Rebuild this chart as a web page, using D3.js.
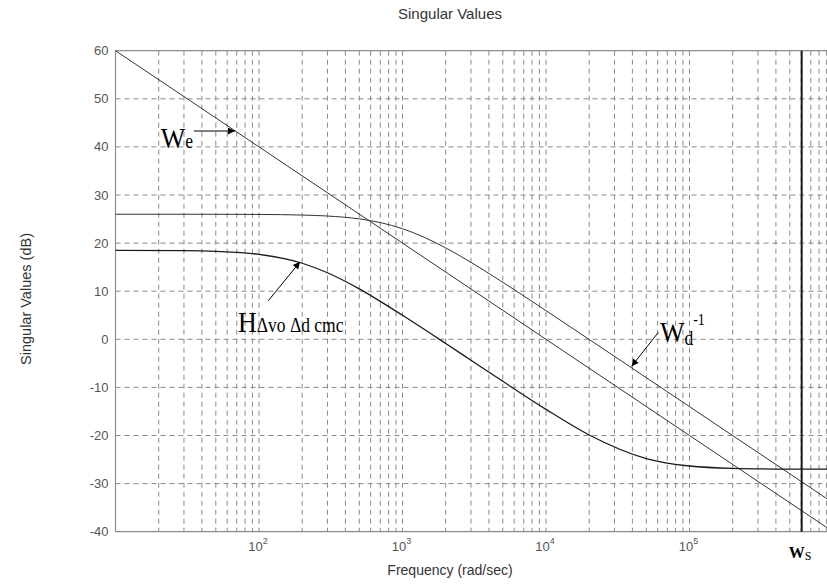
<!DOCTYPE html>
<html>
<head>
<meta charset="utf-8">
<script src="https://cdn.jsdelivr.net/npm/d3@7/dist/d3.min.js"></script>
<style>
  html, body { margin: 0; padding: 0; background: #fff; }
  svg { display: block; }
</style>
</head>
<body>
<svg id="chart" width="827" height="587"></svg>
<script>
// Frequency samples (rad/sec) and singular-value curves (dB)
const freq = [10, 30, 50, 100, 200, 300, 500, 700, 1000, 2000, 3000, 5000,
              1e4, 2e4, 5e4, 1e5, 2e5, 5e5, 1e6];
const weFreq = [10, 100, 1000, 1e4, 1e5, 1e6];
const weDb = [60, 40, 20, 0, -20, -40];
const wdInvDb = [26.0, 26.0, 25.99, 25.96, 25.83, 25.63, 25.03, 24.27, 22.99, 19.01, 16.0,
                 11.85, 5.96, -0.03, -7.98, -14.0, -20.02, -27.96, -34.0];
const hDb = [18.49, 18.42, 18.27, 17.66, 15.81, 13.83, 10.47, 7.89, 4.99, -0.87, -4.35,
             -8.73, -14.56, -19.89, -24.79, -26.34, -26.82, -26.97, -26.99];
const ws = 6.05e5;

const yTicks = [-40, -30, -20, -10, 0, 10, 20, 30, 40, 50, 60];
const xMajor = [100, 1000, 1e4, 1e5];
const xExponents = ["2", "3", "4", "5"];

const svg = d3.select("#chart");
const x = d3.scaleLog().domain([10, 1e6]).range([115.5, 833]);
const y = d3.scaleLinear().domain([-40, 60]).range([531.7, 50.7]);

const sans = "'Liberation Sans', Arial, Helvetica, sans-serif";
const serif = "'Liberation Serif', 'Times New Roman', Times, serif";
const gridColor = "#8a8a8a";

// minor + major grid positions for every decade
const minorTicks = [];
for (let d = 10; d < 1e6; d *= 10) {
  for (let k = 1; k < 10; k++) minorTicks.push(d * k);
}

const grid = svg.append("g");
grid.selectAll("line.v").data(minorTicks.filter(v => v > 10)).join("line")
  .attr("x1", d => x(d)).attr("x2", d => x(d))
  .attr("y1", y(60)).attr("y2", y(-40))
  .attr("stroke", gridColor).attr("stroke-width", 1)
  .attr("stroke-dasharray", "5,4");
grid.selectAll("line.h").data(yTicks.slice(1, -1)).join("line")
  .attr("x1", x(10)).attr("x2", x(1e6))
  .attr("y1", d => y(d)).attr("y2", d => y(d))
  .attr("stroke", gridColor).attr("stroke-width", 1)
  .attr("stroke-dasharray", "5,4");

// axes frame
const frame = svg.append("g").attr("stroke", "#8c8c8c").attr("stroke-width", 1.2).attr("fill", "none");
frame.append("line").attr("x1", x(10)).attr("x2", x(10)).attr("y1", y(60)).attr("y2", y(-40));
frame.append("line").attr("x1", x(10)).attr("x2", x(1e6)).attr("y1", y(-40)).attr("y2", y(-40));
frame.append("line").attr("x1", x(10)).attr("x2", x(1e6)).attr("y1", y(60)).attr("y2", y(60));

// y tick labels
svg.append("g").selectAll("text").data(yTicks).join("text")
  .attr("x", x(10) - 7).attr("y", d => y(d) + 4.5)
  .attr("text-anchor", "end")
  .attr("font-family", sans).attr("font-size", 13).attr("fill", "#555")
  .text(d => d);

// x tick labels: 10 with exponent
const xl = svg.append("g").selectAll("text").data(xMajor).join("text")
  .attr("x", d => x(d) - 1).attr("y", y(-40) + 19)
  .attr("text-anchor", "middle")
  .attr("font-family", sans).attr("font-size", 13).attr("fill", "#555");
xl.append("tspan").text("10");
xl.append("tspan").attr("dy", -7).attr("font-size", 9).text((d, i) => xExponents[i]);

// curves
const line = d3.line().x(d => x(d[0])).y(d => y(d[1])).curve(d3.curveMonotoneX);
const plot = svg.append("g");
plot.append("path").datum(weFreq.map((f, i) => [f, weDb[i]]))
  .attr("d", d3.line().x(d => x(d[0])).y(d => y(d[1])))
  .attr("fill", "none").attr("stroke", "#333").attr("stroke-width", 1);
plot.append("path").datum(freq.map((f, i) => [f, wdInvDb[i]]))
  .attr("d", line).attr("fill", "none").attr("stroke", "#333").attr("stroke-width", 1);
plot.append("path").datum(freq.map((f, i) => [f, hDb[i]]))
  .attr("d", line).attr("fill", "none").attr("stroke", "#1a1a1a").attr("stroke-width", 1.3);

// switching frequency marker
plot.append("line").attr("x1", x(ws)).attr("x2", x(ws)).attr("y1", y(60)).attr("y2", y(-40))
  .attr("stroke", "#1a1a1a").attr("stroke-width", 2);

// arrowhead
svg.append("defs").append("marker")
  .attr("id", "arrow").attr("viewBox", "0 0 10 10")
  .attr("refX", 10).attr("refY", 5)
  .attr("markerWidth", 10).attr("markerHeight", 7)
  .attr("markerUnits", "userSpaceOnUse")
  .attr("orient", "auto")
  .append("path").attr("d", "M0,0 L10,5 L0,10 Z").attr("fill", "#000");

function arrow(f0, d0, f1, d1) {
  svg.append("line")
    .attr("x1", x(f0)).attr("y1", y(d0)).attr("x2", x(f1)).attr("y2", y(d1))
    .attr("stroke", "#000").attr("stroke-width", 1)
    .attr("marker-end", "url(#arrow)");
}

// annotations (serif, slightly tall letterforms)
const ann = svg.append("g").attr("font-family", serif).attr("fill", "#000");
function label(f, d, size) {
  return ann.append("text")
    .attr("transform", `translate(${x(f)},${y(d)}) scale(1,1.14)`)
    .attr("font-size", size);
}

const we = label(20.7, 39.7, 26);
we.append("tspan").text("W");
we.append("tspan").attr("font-size", 17.5).text("e");
arrow(35.2, 43.3, 68, 43.3);

const h = label(71.5, 1.58, 26);
h.append("tspan").text("H");
h.append("tspan").attr("font-size", 17.5).text("Δvo Δd cmc");
arrow(116, 8.0, 193, 16.1);

const wd = label(62200, -0.5, 26);
wd.append("tspan").text("W");
wd.append("tspan").attr("font-size", 17.5).attr("dy", 3).text("d");
wd.append("tspan").attr("font-size", 14).attr("dy", -18).text("-1");
arrow(60700, 1.45, 39500, -5.6);

const wsl = ann.append("text")
  .attr("transform", `translate(${x(ws) - 13},${y(-40) + 26}) scale(1,1.1)`)
  .attr("font-size", 16);
wsl.append("tspan").attr("font-weight", "bold").text("W");
wsl.append("tspan").attr("font-size", 12).attr("dy", 2).text("S");

// titles
svg.append("text").attr("x", 450).attr("y", 19)
  .attr("text-anchor", "middle").attr("font-family", sans).attr("font-size", 15).attr("fill", "#333")
  .text("Singular Values");
svg.append("text").attr("x", 450).attr("y", 575)
  .attr("text-anchor", "middle").attr("font-family", sans).attr("font-size", 14).attr("fill", "#333")
  .text("Frequency (rad/sec)");
svg.append("text").attr("transform", "translate(31,299) rotate(-90)")
  .attr("text-anchor", "middle").attr("font-family", sans).attr("font-size", 14.5).attr("fill", "#333")
  .text("Singular Values (dB)");
</script>
</body>
</html>
